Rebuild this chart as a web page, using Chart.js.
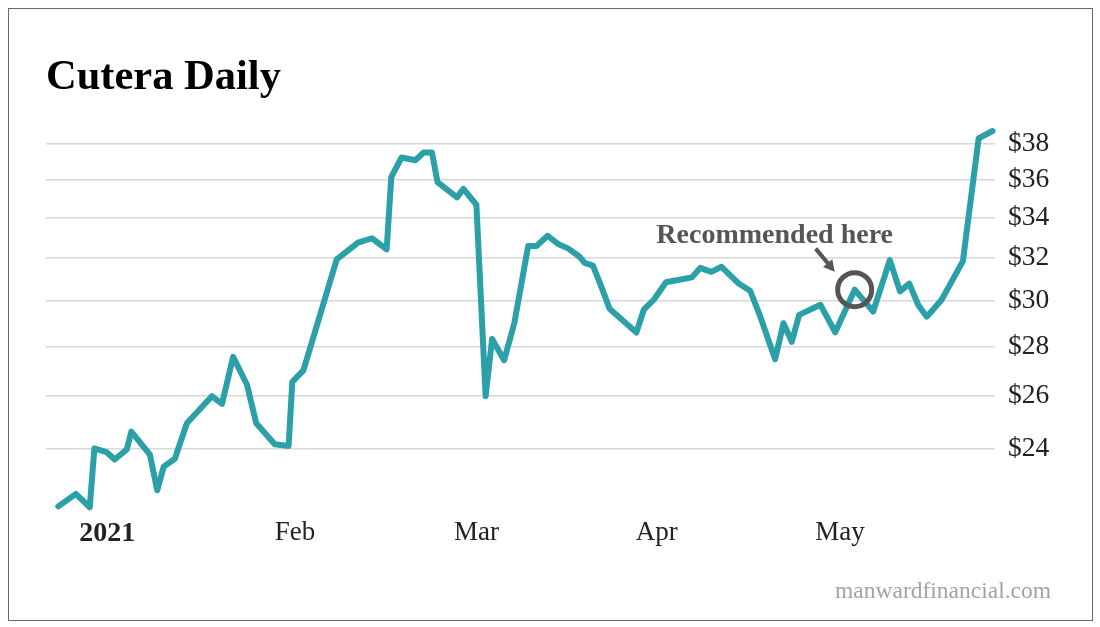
<!DOCTYPE html>
<html>
<head>
<meta charset="utf-8">
<script src="https://cdn.jsdelivr.net/npm/chart.js@4/dist/chart.umd.min.js"></script>
<style>
  html, body { margin: 0; padding: 0; background: #fff; }
  #wrap { position: relative; width: 1100px; height: 627px; overflow: hidden; }
  #frame { position: absolute; left: 8px; top: 8px; width: 1083px; height: 611px; border: 1.5px solid #6a6a6a; pointer-events: none; }
  #title { position: absolute; left: 46px; top: 54px; font: bold 42.5px/42px "Liberation Serif", serif; color: #000; white-space: nowrap; }
  #source { position: absolute; right: 49px; top: 579px; font: 23.5px/22px "Liberation Serif", serif; color: #a3a3a3; white-space: nowrap; }
  canvas { position: absolute; left: 0; top: 0; }
</style>
</head>
<body>
<div id="wrap">
  <canvas id="c" width="1100" height="627"></canvas>
  <div id="frame"></div>
  <div id="title">Cutera Daily</div>
  <div id="source">manwardfinancial.com</div>
</div>
<script>
// Trading session index (0 = Jan 4, 2021) for each vertex of the price line
const sessions = [0, 1.9, 3.4, 3.9, 5.2, 6.1, 7.4, 7.9, 9.9, 10.7, 11.4, 12.6, 13.9, 16.6, 17.7, 18.9, 20.4, 21.4, 23.4, 24.9,
  25.3, 26.5, 30.1, 32.4, 33.9, 35.5, 36.0, 37.1, 38.6, 39.5, 40.4, 41.0, 43.1, 43.8, 45.2, 46.2, 46.9, 48.2, 49.3, 50.8,
  51.7, 52.9, 54.1, 55.1, 56.4, 56.9, 57.8, 58.7, 59.6, 62.5, 63.3, 64.4, 65.7, 68.5, 69.4, 70.6, 71.7, 73.6, 74.8, 75.9,
  77.5, 78.4, 79.3, 80.1, 82.4, 84.0, 86.1, 88.1, 89.9, 91.0, 92.0, 93.0, 93.9, 95.5, 97.8, 99.5, 101];
// Closing price, USD
const prices = [22.00, 22.42, 21.97, 24.01, 23.88, 23.61, 23.97, 24.63, 23.79, 22.54, 23.36, 23.64, 24.94, 25.98, 25.68, 27.57, 26.43, 24.94, 24.16, 24.10,
  26.55, 27.01, 31.94, 32.75, 32.97, 32.42, 36.15, 37.24, 37.09, 37.52, 37.52, 35.88, 35.07, 35.52, 34.68, 25.98, 28.32, 27.43, 29.00, 32.59,
  32.59, 33.09, 32.67, 32.47, 32.05, 31.77, 31.64, 30.66, 29.64, 28.60, 29.60, 30.06, 30.85, 31.08, 31.53, 31.34, 31.58, 30.78, 30.46, 29.29,
  27.47, 29.00, 28.20, 29.37, 29.82, 28.61, 30.51, 29.52, 31.90, 30.43, 30.79, 29.79, 29.29, 30.05, 31.85, 38.33, 38.76];
// Axis ticks
const yTicks = [24, 26, 28, 30, 32, 34, 36, 38];
const xTickLabels = ['2021', 'Feb', 'Mar', 'Apr', 'May'];
const xTickSessions = [5.3, 25.6, 45.2, 64.7, 84.5];
// Annotation
const recommendedIndex = 66;
const recommendedText = 'Recommended here';

const teal = '#2ba0a8';
const serif = '"Liberation Serif", "Times New Roman", serif';

const annotationPlugin = {
  id: 'recommend',
  afterDatasetsDraw(chart) {
    const ctx = chart.ctx;
    const xs = chart.scales.x, ys = chart.scales.y;
    const cx = xs.getPixelForValue(sessions[recommendedIndex]);
    const cy = ys.getPixelForValue(prices[recommendedIndex]);
    ctx.save();
    ctx.strokeStyle = '#555555';
    ctx.fillStyle = '#555555';
    ctx.lineWidth = 5;
    ctx.beginPath();
    ctx.arc(cx, cy, 17, 0, Math.PI * 2);
    ctx.stroke();
    // arrow
    const x1 = cx - 39, y1 = cy - 41, x2 = cx - 20, y2 = cy - 18;
    ctx.lineWidth = 4;
    ctx.lineCap = 'butt';
    ctx.beginPath();
    ctx.moveTo(x1, y1);
    ctx.lineTo(x2 - 4, y2 - 5);
    ctx.stroke();
    const ang = Math.atan2(y2 - y1, x2 - x1);
    const hl = 11, hw = 6;
    ctx.beginPath();
    ctx.moveTo(x2, y2);
    ctx.lineTo(x2 - hl * Math.cos(ang) + hw * Math.sin(ang), y2 - hl * Math.sin(ang) - hw * Math.cos(ang));
    ctx.lineTo(x2 - hl * Math.cos(ang) - hw * Math.sin(ang), y2 - hl * Math.sin(ang) + hw * Math.cos(ang));
    ctx.closePath();
    ctx.fill();
    // text
    ctx.font = 'bold 28px ' + serif;
    ctx.textAlign = 'center';
    ctx.textBaseline = 'alphabetic';
    ctx.fillText(recommendedText, cx - 80, cy - 47);
    ctx.restore();
  }
};

new Chart(document.getElementById('c'), {
  type: 'line',
  data: {
    datasets: [{
      data: sessions.map((s, i) => ({ x: s, y: prices[i] })),
      borderColor: teal,
      borderWidth: 6,
      borderJoinStyle: 'round',
      borderCapStyle: 'round',
      pointRadius: 0,
      tension: 0,
      fill: false,
      clip: false
    }]
  },
  options: {
    responsive: false,
    devicePixelRatio: 1,
    animation: false,
    layout: { padding: { left: 46, top: 120, right: 0, bottom: 0 } },
    plugins: { legend: { display: false }, tooltip: { enabled: false }, title: { display: false } },
    scales: {
      x: {
        type: 'linear',
        min: -1.33,
        max: 101.27,
        afterBuildTicks(scale) { scale.ticks = xTickSessions.map(v => ({ value: v })); },
        afterFit(scale) { scale.height = 117; },
        grid: { display: false },
        border: { display: false },
        ticks: {
          autoSkip: false,
          maxRotation: 0,
          padding: -1,
          color: '#222',
          font: (ctx) => ctx.index === 0 ? { family: serif, size: 28, weight: 'bold' } : { family: serif, size: 27 },
          callback: (v, i) => xTickLabels[i]
        }
      },
      y: {
        type: 'logarithmic',
        position: 'right',
        min: 21.88,
        max: 39.41,
        afterBuildTicks(scale) { scale.ticks = yTicks.map(v => ({ value: v })); },
        afterFit(scale) { scale.width = 105; },
        grid: { color: '#d8d8d8', lineWidth: 1.5, drawTicks: false },
        border: { display: false },
        ticks: {
          padding: 13,
          color: '#222',
          font: { family: serif, size: 27.5 },
          callback: (v) => '$' + v
        }
      }
    }
  },
  plugins: [annotationPlugin]
});
</script>
</body>
</html>
